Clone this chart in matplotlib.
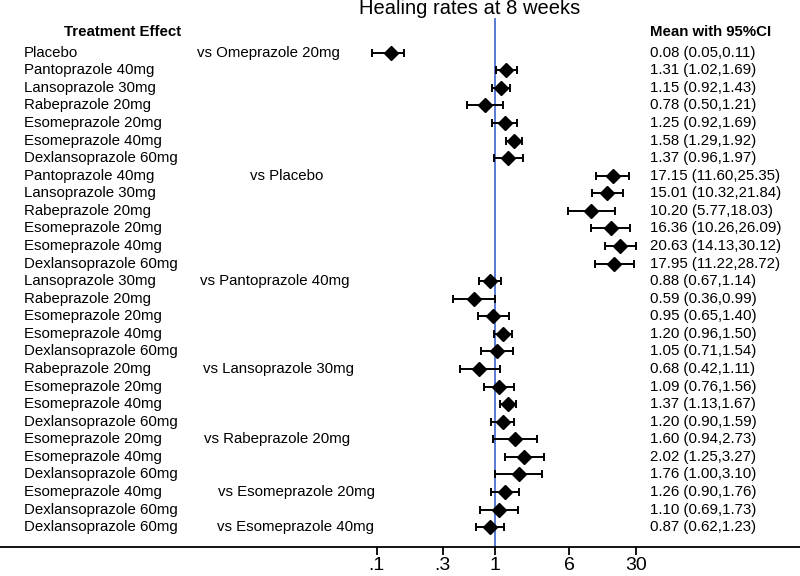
import matplotlib
matplotlib.use("Agg")
import matplotlib.pyplot as plt
import matplotlib.transforms as mtransforms
import numpy as np

plt.rcParams['font.family'] = ['Liberation Sans', 'DejaVu Sans']

treatments = ["Placebo", "Pantoprazole 40mg", "Lansoprazole 30mg", "Rabeprazole 20mg",
              "Esomeprazole 20mg", "Esomeprazole 40mg", "Dexlansoprazole 60mg",
              "Pantoprazole 40mg", "Lansoprazole 30mg", "Rabeprazole 20mg",
              "Esomeprazole 20mg", "Esomeprazole 40mg", "Dexlansoprazole 60mg",
              "Lansoprazole 30mg", "Rabeprazole 20mg", "Esomeprazole 20mg",
              "Esomeprazole 40mg", "Dexlansoprazole 60mg",
              "Rabeprazole 20mg", "Esomeprazole 20mg", "Esomeprazole 40mg", "Dexlansoprazole 60mg",
              "Esomeprazole 20mg", "Esomeprazole 40mg", "Dexlansoprazole 60mg",
              "Esomeprazole 40mg", "Dexlansoprazole 60mg",
              "Dexlansoprazole 60mg"]
comparators = ["vs Omeprazole 20mg", "vs Placebo", "vs Pantoprazole 40mg", "vs Lansoprazole 30mg",
               "vs Rabeprazole 20mg", "vs Esomeprazole 20mg", "vs Esomeprazole 40mg"]
comparator_rows = [0, 7, 13, 18, 22, 25, 27]
means = [0.08, 1.31, 1.15, 0.78, 1.25, 1.58, 1.37,
         17.15, 15.01, 10.20, 16.36, 20.63, 17.95,
         0.88, 0.59, 0.95, 1.20, 1.05,
         0.68, 1.09, 1.37, 1.20,
         1.60, 2.02, 1.76,
         1.26, 1.10,
         0.87]
lower = [0.05, 1.02, 0.92, 0.50, 0.92, 1.29, 0.96,
         11.60, 10.32, 5.77, 10.26, 14.13, 11.22,
         0.67, 0.36, 0.65, 0.96, 0.71,
         0.42, 0.76, 1.13, 0.90,
         0.94, 1.25, 1.00,
         0.90, 0.69,
         0.62]
upper = [0.11, 1.69, 1.43, 1.21, 1.69, 1.92, 1.97,
         25.35, 21.84, 18.03, 26.09, 30.12, 28.72,
         1.14, 0.99, 1.40, 1.50, 1.54,
         1.11, 1.56, 1.67, 1.59,
         2.73, 3.27, 3.10,
         1.76, 1.73,
         1.23]
tick_labels = [".1", ".3", "1", "6", "30"]
# where the original figure draws its tick marks
tick_pos = [0.0565, 0.279, 1, 6, 30]

W, H = 800, 576
fig = plt.figure(figsize=(8, 5.76), dpi=100)
axis_px = 547          # pixel row of the bottom axis line
ax = fig.add_axes([0, (H - axis_px) / H, 1, axis_px / H])

# x: log scale, 1 at pixel 495.3, 95 px per decade
k = 95.0
x1 = 495.3
ax.set_xscale('log')
ax.set_xlim(10 ** (-x1 / k), 10 ** ((W - x1) / k))

# y: row i centred at pixel 52.7 + i*17.57
row0, dy = 52.7, 17.57
ax.set_ylim((axis_px - row0) / dy, -row0 / dy)

rows = np.arange(len(means))
m = np.array(means)
lo = np.array(lower)
hi = np.array(upper)

ax.plot([1, 1], [(19 - row0) / dy, (axis_px - row0) / dy], color='#4a6fd0', lw=1.3, zorder=1)
ax.errorbar(m, rows, xerr=[m - lo, hi - m], fmt='none', ecolor='black',
            elinewidth=1.4, capsize=3, capthick=1.4, zorder=2)
ax.plot(m, rows, linestyle='none', marker='D', color='black', markersize=7.5, zorder=3)

for s in ['top', 'right', 'left']:
    ax.spines[s].set_visible(False)
ax.spines['bottom'].set_linewidth(1.3)
ax.set_yticks([])
ax.xaxis.set_minor_locator(matplotlib.ticker.NullLocator())
ax.set_xticks(tick_pos)
ax.set_xticklabels(tick_labels, fontsize=14)
ax.tick_params(axis='x', direction='out', length=6, width=1.3, pad=1)

trans = mtransforms.blended_transform_factory(fig.transFigure, ax.transData)
fs = 10.8
for i, name in enumerate(treatments):
    ax.text(24 / W, i, name, transform=trans, fontsize=fs, va='center', ha='left')
    ax.text(650 / W, i, f"{means[i]:.2f} ({lower[i]:.2f},{upper[i]:.2f})",
            transform=trans, fontsize=fs, va='center', ha='left')

comp_x = [197, 250, 200, 203, 204, 218, 217]
for r, lab, px in zip(comparator_rows, comparators, comp_x):
    ax.text(px / W, r, lab, transform=trans, fontsize=fs, va='center', ha='left')

fig.text(64 / W, 1 - 32 / H, "Treatment Effect", fontsize=fs, fontweight='bold', va='center', ha='left')
fig.text(650 / W, 1 - 32 / H, "Mean with 95%CI", fontsize=fs, fontweight='bold', va='center', ha='left')
fig.text(470 / W, 1 - 8 / H, "Healing rates at 8 weeks", fontsize=14.5, va='center', ha='center')

fig.savefig("out.png", dpi=100)
